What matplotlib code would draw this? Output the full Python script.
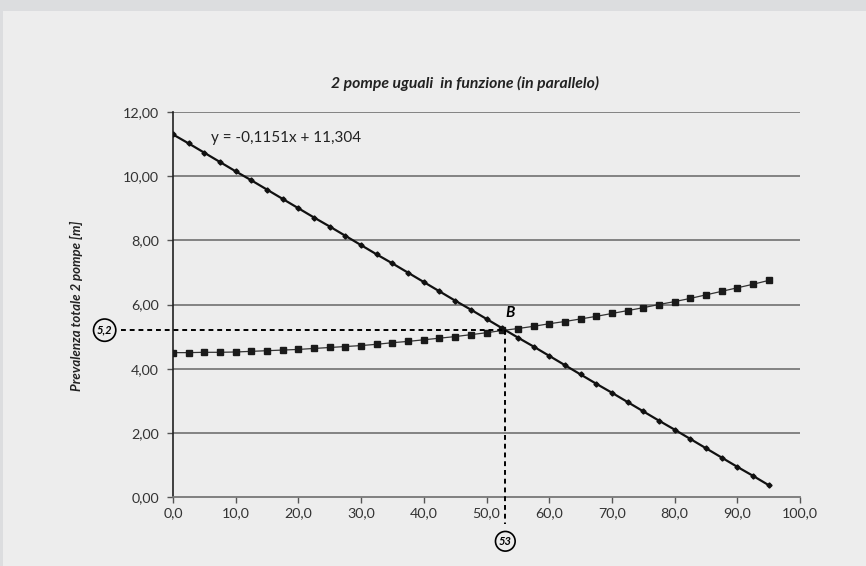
import matplotlib.pyplot as plt
from matplotlib.patches import Rectangle

plt.rcParams['font.family'] = ['Lato', 'DejaVu Sans']

# Portata (asse x) e prevalenze
portata = [0.0, 2.5, 5.0, 7.5, 10.0, 12.5, 15.0, 17.5, 20.0, 22.5, 25.0, 27.5, 30.0,
           32.5, 35.0, 37.5, 40.0, 42.5, 45.0, 47.5, 50.0, 52.5, 55.0, 57.5, 60.0,
           62.5, 65.0, 67.5, 70.0, 72.5, 75.0, 77.5, 80.0, 82.5, 85.0, 87.5, 90.0,
           92.5, 95.0]
prev_pompe = [11.30, 11.02, 10.73, 10.44, 10.15, 9.87, 9.58, 9.29, 9.00, 8.71, 8.43,
              8.14, 7.85, 7.56, 7.28, 6.99, 6.70, 6.41, 6.12, 5.84, 5.55, 5.26, 4.97,
              4.69, 4.40, 4.11, 3.82, 3.53, 3.25, 2.96, 2.67, 2.38, 2.10, 1.81, 1.52,
              1.23, 0.94, 0.66, 0.37]
prev_impianto = [4.50, 4.50, 4.51, 4.51, 4.52, 4.54, 4.56, 4.58, 4.60, 4.63, 4.66,
                 4.69, 4.72, 4.76, 4.81, 4.85, 4.90, 4.95, 5.00, 5.06, 5.12, 5.19,
                 5.25, 5.32, 5.40, 5.47, 5.55, 5.63, 5.72, 5.81, 5.90, 6.00, 6.09,
                 6.19, 6.30, 6.41, 6.52, 6.63, 6.75]

punto_b = (53, 5.2)
x_ticks = [0, 10, 20, 30, 40, 50, 60, 70, 80, 90, 100]
y_ticks = [0, 2, 4, 6, 8, 10, 12]

fig = plt.figure(figsize=(8.66, 5.66), dpi=100, facecolor="#dcdddf")
fig.patches.append(Rectangle((3 / 866, 0), 1, 1 - 11 / 566, transform=fig.transFigure,
                             facecolor="#ededed", edgecolor="none", zorder=-10))

ax = fig.add_axes([173 / 866, 1 - 497 / 566, 627 / 866, 385 / 566])
ax.set_facecolor("#ededed")
ax.set_zorder(1)

# griglia orizzontale
for yv in y_ticks[1:]:
    ax.axhline(yv, color="#7a7a7a", lw=1.3, zorder=1)

ax.plot(portata, prev_impianto, color="#333333", lw=0.9, marker="s", ms=4.5,
        mfc="#1a1a1a", mec="#1a1a1a", zorder=3)
ax.plot(portata, prev_pompe, color="#111111", lw=1.6, marker="D", ms=2.6,
        mfc="#111111", mec="#111111", zorder=4)

# linee tratteggiate del punto di funzionamento
ax.plot([-8.3, punto_b[0]], [punto_b[1], punto_b[1]], color="black", lw=1.4,
        ls=(0, (2.5, 2)), clip_on=False, zorder=5)
ax.plot([punto_b[0], punto_b[0]], [punto_b[1], -0.85], color="black", lw=1.4,
        ls=(0, (2.5, 2)), clip_on=False, zorder=5)

cerchio = dict(boxstyle="circle,pad=0.3", fc="none", ec="black", lw=1.2)
ax.text(-10.9, punto_b[1], "5,2", fontsize=8, fontweight="bold", fontstyle="italic",
        ha="center", va="center", bbox=cerchio, clip_on=False)
ax.text(punto_b[0], -1.38, "53", fontsize=8, fontweight="bold", fontstyle="italic",
        ha="center", va="center", bbox=cerchio, clip_on=False)
ax.text(53.7, 5.72, "B", fontsize=11, fontweight="bold", fontstyle="italic",
        ha="center", va="center")

ax.text(6.1, 11.2, "y = -0,1151x + 11,304", fontsize=11, color="#222222",
        ha="left", va="center")

ax.set_xlim(0, 100)
ax.set_ylim(0, 12)
ax.set_xticks(x_ticks)
ax.set_xticklabels([("%.1f" % v).replace(".", ",") for v in x_ticks])
ax.set_yticks(y_ticks)
ax.set_yticklabels([("%.2f" % v).replace(".", ",") for v in y_ticks])
ax.tick_params(axis="both", labelsize=10.3, labelcolor="#333333", color="#555555",
               length=4, width=1)
ax.tick_params(axis="y", pad=6)

for side in ["top", "right"]:
    ax.spines[side].set_visible(False)
ax.spines["left"].set_color("#222222")
ax.spines["left"].set_linewidth(1.2)
ax.spines["bottom"].set_color("#777777")
ax.spines["bottom"].set_linewidth(1.3)

fig.text(465 / 866, 1 - 83 / 566, "2 pompe uguali  in funzione (in parallelo)",
         fontsize=11.3, fontweight="bold", fontstyle="italic", color="#222222",
         ha="center", va="center")
fig.text(76 / 866, 1 - 306 / 566, "Prevalenza totale 2 pompe [m]", rotation=90,
         fontsize=9.5, fontweight="bold", fontstyle="italic", color="#222222",
         ha="center", va="center")

fig.savefig("out.png", dpi=100, facecolor=fig.get_facecolor())
